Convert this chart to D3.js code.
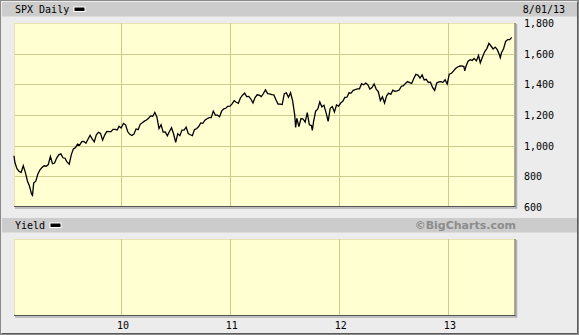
<!DOCTYPE html>
<html>
<head>
<meta charset="utf-8">
<script src="https://cdn.jsdelivr.net/npm/d3@7.9.0/dist/d3.min.js"></script>
<style>
  body { margin: 0; background: #fff; }
  svg { display: block; }
  .mono { font-family: "DejaVu Sans Mono", monospace; font-size: 10px; fill: #000; }
</style>
</head>
<body>
<svg id="chart" width="579" height="335"></svg>
<script>
// SPX weekly-ish closes
const dates = [
  '2009-01-06','2009-01-09','2009-01-16','2009-01-23','2009-01-30','2009-02-06','2009-02-13','2009-02-20','2009-02-27','2009-03-06','2009-03-09','2009-03-13','2009-03-20','2009-03-27','2009-04-03','2009-04-09','2009-04-17','2009-04-24','2009-05-01','2009-05-08','2009-05-15','2009-05-22','2009-05-29','2009-06-05','2009-06-12','2009-06-19','2009-06-26','2009-07-02','2009-07-10','2009-07-17','2009-07-24','2009-07-31','2009-08-07','2009-08-14','2009-08-21','2009-08-28','2009-09-04','2009-09-11','2009-09-18','2009-09-25','2009-10-02','2009-10-09','2009-10-16','2009-10-23','2009-10-30','2009-11-06','2009-11-13','2009-11-20','2009-11-27','2009-12-04','2009-12-11','2009-12-18','2009-12-24','2009-12-31',
  '2010-01-08','2010-01-15','2010-01-22','2010-01-29','2010-02-05','2010-02-12','2010-02-19','2010-02-26','2010-03-05','2010-03-12','2010-03-19','2010-03-26','2010-04-02','2010-04-09','2010-04-16','2010-04-23','2010-04-30','2010-05-07','2010-05-14','2010-05-21','2010-05-28','2010-06-04','2010-06-11','2010-06-18','2010-06-25','2010-07-02','2010-07-09','2010-07-16','2010-07-23','2010-07-30','2010-08-06','2010-08-13','2010-08-20','2010-08-27','2010-09-03','2010-09-10','2010-09-17','2010-09-24','2010-10-01','2010-10-08','2010-10-15','2010-10-22','2010-10-29','2010-11-05','2010-11-12','2010-11-19','2010-11-26','2010-12-03','2010-12-10','2010-12-17','2010-12-23','2010-12-31',
  '2011-01-07','2011-01-14','2011-01-21','2011-01-28','2011-02-04','2011-02-11','2011-02-18','2011-02-25','2011-03-04','2011-03-11','2011-03-18','2011-03-25','2011-04-01','2011-04-08','2011-04-15','2011-04-21','2011-04-29','2011-05-06','2011-05-13','2011-05-20','2011-05-27','2011-06-03','2011-06-10','2011-06-17','2011-06-24','2011-07-01','2011-07-08','2011-07-15','2011-07-22','2011-07-29','2011-08-05','2011-08-08','2011-08-12','2011-08-19','2011-08-26','2011-09-02','2011-09-09','2011-09-16','2011-09-23','2011-09-30','2011-10-03','2011-10-07','2011-10-14','2011-10-21','2011-10-28','2011-11-04','2011-11-11','2011-11-18','2011-11-25','2011-12-02','2011-12-09','2011-12-16','2011-12-23','2011-12-30',
  '2012-01-06','2012-01-13','2012-01-20','2012-01-27','2012-02-03','2012-02-10','2012-02-17','2012-02-24','2012-03-02','2012-03-09','2012-03-16','2012-03-23','2012-03-30','2012-04-06','2012-04-13','2012-04-20','2012-04-27','2012-05-04','2012-05-11','2012-05-18','2012-05-25','2012-06-01','2012-06-08','2012-06-15','2012-06-22','2012-06-29','2012-07-06','2012-07-13','2012-07-20','2012-07-27','2012-08-03','2012-08-10','2012-08-17','2012-08-24','2012-08-31','2012-09-07','2012-09-14','2012-09-21','2012-09-28','2012-10-05','2012-10-12','2012-10-19','2012-10-26','2012-11-02','2012-11-09','2012-11-16','2012-11-23','2012-11-30','2012-12-07','2012-12-14','2012-12-21','2012-12-28',
  '2013-01-04','2013-01-11','2013-01-18','2013-01-25','2013-02-01','2013-02-08','2013-02-15','2013-02-22','2013-02-25','2013-03-01','2013-03-08','2013-03-15','2013-03-22','2013-03-28','2013-04-05','2013-04-12','2013-04-18','2013-04-26','2013-05-03','2013-05-10','2013-05-17','2013-05-24','2013-05-31','2013-06-07','2013-06-14','2013-06-21','2013-06-24','2013-06-28','2013-07-05','2013-07-12','2013-07-19','2013-07-26','2013-08-01'
];
const closes = [
  934,890,850,832,826,869,826,770,735,683,676,756,768,815,842,856,869,866,877,929,882,887,919,940,946,921,918,896,879,940,979,987,1010,1004,1026,1028,1016,1042,1068,1044,1025,1071,1087,1080,1036,1069,1093,1091,1091,1106,1106,1102,1127,1115,
  1145,1136,1092,1074,1066,1075,1109,1104,1139,1150,1160,1167,1179,1194,1192,1217,1187,1111,1136,1088,1089,1064,1092,1117,1076,1022,1078,1065,1102,1102,1121,1079,1071,1065,1105,1110,1125,1148,1146,1166,1176,1183,1183,1225,1199,1199,1189,1225,1240,1244,1256,1258,
  1272,1293,1283,1276,1311,1329,1343,1320,1321,1304,1279,1314,1332,1329,1320,1337,1364,1340,1338,1333,1331,1300,1271,1271,1268,1339,1344,1316,1345,1292,1199,1119,1179,1124,1177,1174,1154,1216,1136,1131,1099,1155,1225,1238,1285,1253,1263,1216,1159,1244,1255,1219,1265,1258,
  1278,1289,1315,1316,1345,1343,1361,1366,1370,1371,1404,1397,1408,1398,1370,1379,1403,1369,1353,1295,1318,1278,1325,1343,1335,1362,1355,1357,1363,1386,1391,1405,1418,1411,1406,1438,1465,1460,1441,1461,1428,1433,1412,1414,1380,1360,1409,1416,1418,1413,1430,1402,
  1466,1472,1486,1503,1513,1518,1520,1516,1488,1518,1551,1561,1556,1569,1553,1588,1541,1582,1614,1633,1667,1650,1631,1643,1626,1593,1573,1606,1632,1680,1692,1692,1706
];
const priceTicks = [600, 800, 1000, 1200, 1400, 1600, 1800];
const yearTicks = ['2010-01-01', '2011-01-01', '2012-01-01', '2013-01-01'];
const titleTop = 'SPX Daily';
const titleBottom = 'Yield';
const lastDate = '8/01/13';
const credit = '\u00A9BigCharts.com';

const parse = d3.timeParse('%Y-%m-%d');
const series = dates.map((d, i) => ({ date: parse(d), value: closes[i] }));

const svg = d3.select('#chart');
const W = 579, H = 335;
const left = 14, right = 515.5;
const top1 = 23, bot1 = 207;
const top2 = 239, bot2 = 316;

// frame
svg.append('rect').attr('x', 0.5).attr('y', 0.5).attr('width', W - 1).attr('height', H - 1)
  .attr('fill', '#ececec').attr('stroke', '#8a8a8a');
svg.append('rect').attr('x', 1.5).attr('y', 1.5).attr('width', W - 3).attr('height', H - 3)
  .attr('fill', 'none').attr('stroke', '#5a5a5a').attr('stroke-width', 1)
  .attr('stroke-dasharray', `0 ${W - 3} ${H - 3 + W - 3} ${H - 3}`);

// header bars
svg.append('rect').attr('x', 2).attr('y', 2).attr('width', W - 4).attr('height', 14.5).attr('fill', '#cccccc');
svg.append('rect').attr('x', 2).attr('y', 218).attr('width', W - 4).attr('height', 14.5).attr('fill', '#cccccc');

const x = d3.scaleTime().domain([parse('2009-01-06'), parse('2013-08-14')]).range([left, right]);
const y = d3.scaleLinear().domain([600, 1800]).range([bot1, top1]);

function panel(t, b) {
  svg.append('line').attr('x1', left + 1).attr('x2', right + 1.5).attr('y1', b + 1).attr('y2', b + 1)
    .attr('stroke', '#b0b0b0').attr('stroke-width', 1.5);
  svg.append('line').attr('x1', right + 1).attr('x2', right + 1).attr('y1', t + 1).attr('y2', b + 1.5)
    .attr('stroke', '#b0b0b0').attr('stroke-width', 1.5);
  svg.append('rect').attr('x', left).attr('y', t).attr('width', right - left).attr('height', b - t)
    .attr('fill', '#ffffd2');
  svg.append('line').attr('x1', left).attr('x2', right).attr('y1', t + 0.5).attr('y2', t + 0.5)
    .attr('stroke', '#e4e4b0');
  svg.append('line').attr('x1', left + 0.5).attr('x2', left + 0.5).attr('y1', t).attr('y2', b)
    .attr('stroke', '#e4e4b0');
  svg.selectAll(null).data(yearTicks).join('line')
    .attr('x1', d => Math.round(x(parse(d))) + 0.5).attr('x2', d => Math.round(x(parse(d))) + 0.5)
    .attr('y1', t).attr('y2', b).attr('stroke', '#cccc8c');
  svg.append('line').attr('x1', left).attr('x2', right).attr('y1', b - 0.5).attr('y2', b - 0.5)
    .attr('stroke', '#555');
  svg.append('line').attr('x1', right - 0.5).attr('x2', right - 0.5).attr('y1', t).attr('y2', b)
    .attr('stroke', '#555');
}

panel(top1, bot1);
panel(top2, bot2);

// horizontal gridlines in price panel
svg.append('g').selectAll('line').data(priceTicks.filter(v => v > 600 && v < 1800)).join('line')
  .attr('x1', left + 1).attr('x2', right - 1)
  .attr('y1', d => Math.round(y(d)) + 0.5).attr('y2', d => Math.round(y(d)) + 0.5)
  .attr('stroke', '#cccc8c');

// price line
svg.append('path').datum(series)
  .attr('d', d3.line().x(d => x(d.date)).y(d => y(d.value)))
  .attr('fill', 'none').attr('stroke', '#000').attr('stroke-width', 1.3)
  .attr('stroke-linejoin', 'miter');

// right-side price labels
const yAxis = d3.axisRight(y).tickValues(priceTicks).tickSize(0).tickPadding(0).tickFormat(d3.format(','));
const ya = svg.append('g').attr('transform', 'translate(524,0)').call(yAxis);
ya.select('.domain').remove();
ya.selectAll('text').attr('class', 'mono').attr('dy', '0.35em').attr('x', 0);

// year labels
const xAxis = d3.axisBottom(x).tickValues(yearTicks.map(parse)).tickSize(0).tickPadding(0)
  .tickFormat(d3.timeFormat('%y'));
const xa = svg.append('g').attr('transform', 'translate(1,325.5)').call(xAxis);
xa.select('.domain').remove();
xa.selectAll('text').attr('class', 'mono').attr('dy', '0.35em').attr('y', 0);

// headers
svg.append('text').attr('class', 'mono').attr('x', 15).attr('y', 13).text(titleTop);
svg.append('rect').attr('x', 74).attr('y', 7).attr('width', 11).attr('height', 4.5)
  .attr('fill', '#000').attr('stroke', '#fff').attr('stroke-width', 1);
svg.append('text').attr('class', 'mono').attr('x', 565).attr('y', 13).attr('text-anchor', 'end').text(lastDate);

svg.append('text').attr('class', 'mono').attr('x', 15).attr('y', 229).text(titleBottom);
svg.append('rect').attr('x', 50).attr('y', 223).attr('width', 11).attr('height', 4.5)
  .attr('fill', '#000').attr('stroke', '#fff').attr('stroke-width', 1);

svg.append('text').attr('x', 516).attr('y', 229).attr('text-anchor', 'end')
  .attr('font-family', 'Verdana, "DejaVu Sans", sans-serif').attr('font-weight', 'bold')
  .attr('font-size', 11).attr('fill', '#8c8c8c').text(credit);
</script>
</body>
</html>
